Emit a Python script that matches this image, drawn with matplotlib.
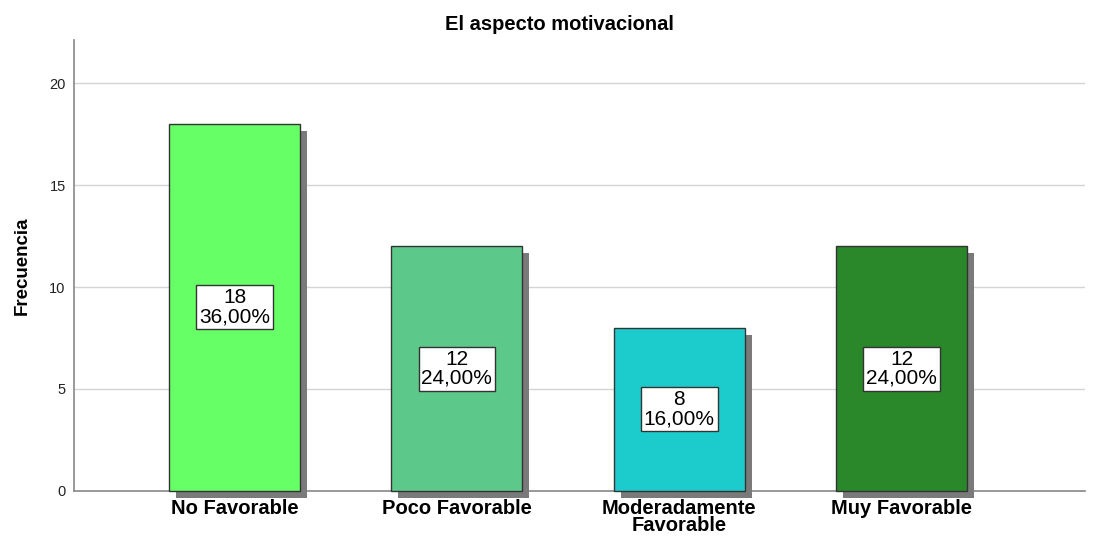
import matplotlib.pyplot as plt
import matplotlib.patheffects as pe

plt.switch_backend('Agg')
plt.rcParams['font.family'] = ['Liberation Sans', 'DejaVu Sans']

# Data
categories = ['No Favorable', 'Poco Favorable', 'Moderadamente\nFavorable', 'Muy Favorable']
counts = [18, 12, 8, 12]
percents = ['36,00%', '24,00%', '16,00%', '24,00%']
bar_colors = ['#66ff66', '#5cc98a', '#1ccccc', '#2a872a']

fig = plt.figure(figsize=(10.99, 5.36), dpi=100)
ax = fig.add_axes([0.0673, 0.084, 0.92, 0.841])

x = list(range(len(categories)))
width = 0.59

# Drop shadow drawn as an offset patch effect
bars = ax.bar(x, counts, width=width, color=bar_colors, edgecolor='#333333',
              linewidth=1.0, zorder=3,
              path_effects=[pe.SimplePatchShadow(offset=(5, -5), shadow_rgbFace='#7a7a7a', alpha=1.0),
                            pe.Normal()])
for b in bars:
    b.set_clip_on(False)

for xi, c, p in zip(x, counts, percents):
    ax.text(xi, c / 2, f'{c}\n{p}', ha='center', va='center', fontsize=15,
            linespacing=1.0, zorder=5,
            bbox=dict(boxstyle='square,pad=0.14', facecolor='white', edgecolor='#333333', linewidth=1.0))

ax.set_xlim(-0.722, 3.825)
ax.set_ylim(0, 22.1)
ax.set_yticks([0, 5, 10, 15, 20])
ax.set_xticks(x)
ax.set_xticklabels(categories, fontsize=14.5, fontweight='bold', linespacing=0.85)
ax.tick_params(axis='y', length=0, labelsize=10.5, pad=6, labelcolor='#222222')
ax.tick_params(axis='x', length=0, pad=6)

ax.grid(axis='y', color='#d4d4d4', linewidth=1.0, zorder=0)
ax.set_axisbelow(True)
for s in ['top', 'right']:
    ax.spines[s].set_visible(False)
for s in ['left', 'bottom']:
    ax.spines[s].set_color('#888888')
    ax.spines[s].set_linewidth(1.2)
ax.spines['bottom'].set_zorder(2)

ax.set_ylabel('Frecuencia', fontsize=13.5, fontweight='bold', labelpad=13)
fig.text(0.509, 0.955, 'El aspecto motivacional', fontsize=14.5, fontweight='bold',
         ha='center', va='center')

plt.savefig('out.png', dpi=100)
plt.close(fig)
